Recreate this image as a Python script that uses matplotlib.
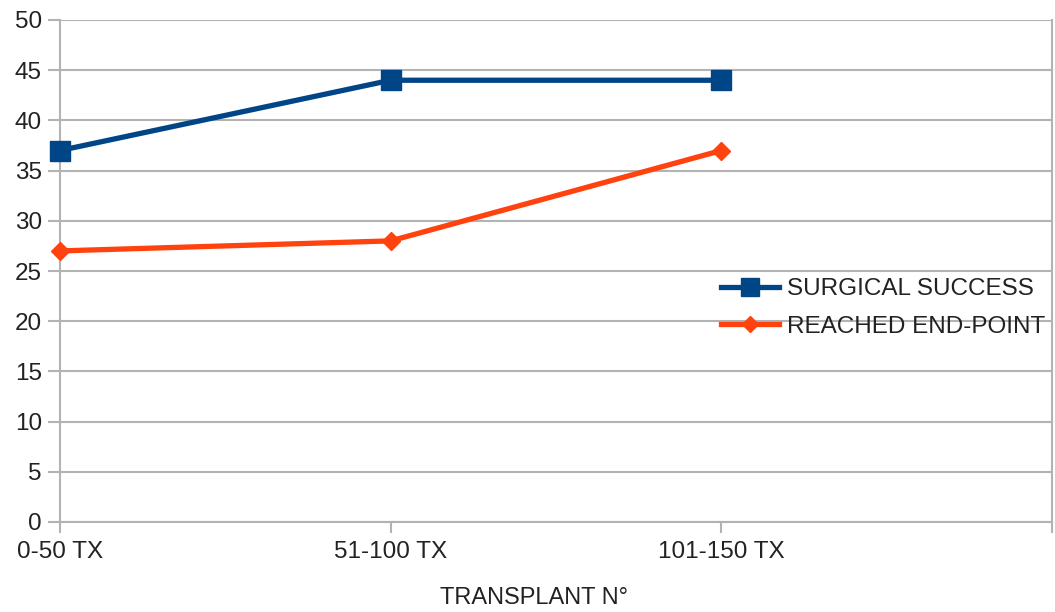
import matplotlib.pyplot as plt

plt.rcParams['font.family'] = ['Liberation Sans', 'DejaVu Sans']

groups = ["0-50 TX", "51-100 TX", "101-150 TX"]
surgical_success = [37, 44, 44]
reached_end_point = [27, 28, 37]

fig = plt.figure(figsize=(10.55, 6.12), dpi=100)
ax = fig.add_axes([60 / 1055, 90 / 612, 992 / 1055, 502 / 612])

x = list(range(len(groups)))
ax.plot(x, surgical_success, color="#004586", lw=3.8, marker="s", ms=14,
        label="SURGICAL SUCCESS", zorder=3, clip_on=False)
ax.plot(x, reached_end_point, color="#ff420e", lw=3.8, marker="D", ms=9,
        label="REACHED END-POINT", zorder=3, clip_on=False)

ax.set_xlim(0, 3)
ax.set_ylim(0, 50)
ax.set_yticks(range(0, 51, 5))
ax.set_xticks([0, 1, 2, 3], groups + [""])

grid = "#b3b3b3"
ax.yaxis.grid(True, color=grid, lw=1.5)
ax.set_axisbelow(True)
for side in ["left", "right", "bottom"]:
    ax.spines[side].set_color(grid)
    ax.spines[side].set_linewidth(1.5)
ax.spines["top"].set_visible(False)
ax.tick_params(axis="both", colors=grid, width=1.5, labelsize=17.5, labelcolor="#222222")
ax.tick_params(axis="x", length=8, pad=6)
ax.tick_params(axis="y", length=9, pad=4)

ax.set_xlabel("TRANSPLANT N°", fontsize=17, color="#222222")
ax.xaxis.set_label_coords((534 - 60) / 992, -0.13)

leg = ax.legend(loc="center left", bbox_to_anchor=(721 / 1055, 304 / 612),
                bbox_transform=fig.transFigure, frameon=False, fontsize=17.5,
                handlelength=2.4, handletextpad=0.3, labelspacing=0.65,
                borderpad=0, borderaxespad=0, markerscale=0.9)
for t in leg.get_texts():
    t.set_color("#222222")

fig.savefig("out.png", dpi=100)
